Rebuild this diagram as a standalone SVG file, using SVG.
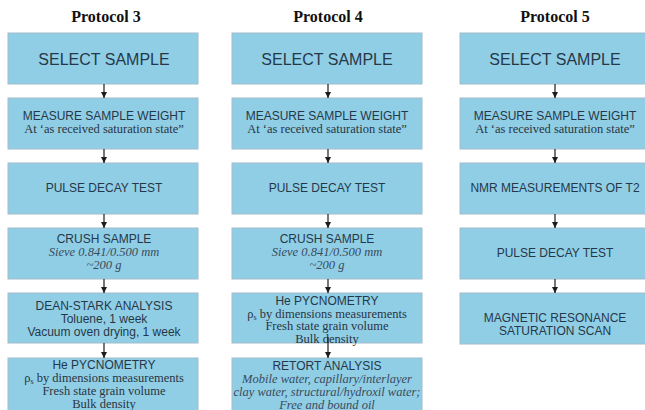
<svg xmlns="http://www.w3.org/2000/svg" width="645" height="410" viewBox="0 0 645 410">
  <defs>
    <marker id="arrowhead" viewBox="0 0 10 10" refX="10" refY="5" markerWidth="6" markerHeight="7.5" orient="auto" markerUnits="userSpaceOnUse">
      <path d="M0,0 L10,5 L0,10 Z" fill="#1c1c1c"/>
    </marker>
    <style>
      .box { fill: #90cee6; stroke: #a3bccb; stroke-width: 1; }
      .title { font-family: "Liberation Serif", "Times New Roman", serif; font-weight: bold; font-size: 16px; fill: #111; text-anchor: middle; }
      .big { font-family: "Liberation Sans", Arial, sans-serif; font-size: 16px; fill: #263848; text-anchor: middle; }
      .sans { font-family: "Liberation Sans", Arial, sans-serif; font-size: 12px; fill: #263848; text-anchor: middle; }
      .serif { font-family: "Liberation Serif", "Times New Roman", serif; font-size: 12.5px; fill: #2a3440; text-anchor: middle; }
      .ital { font-family: "Liberation Serif", "Times New Roman", serif; font-style: italic; font-size: 12.5px; fill: #3a4b5c; text-anchor: middle; }
      .arrow { stroke: #1c1c1c; stroke-width: 1.2; fill: none; }
    </style>
  </defs>

  <!-- column headings -->
  <text class="title" x="106" y="22">Protocol 3</text>
  <text class="title" x="328" y="22">Protocol 4</text>
  <text class="title" x="555" y="22">Protocol 5</text>

  <!-- Protocol 3 -->
  <g id="p3-select">
    <rect class="box" x="8" y="33" width="190" height="51"/>
    <text class="big" x="104" y="64.5">SELECT SAMPLE</text>
  </g>
  <g id="p3-weight">
    <rect class="box" x="8" y="98" width="190" height="51"/>
    <text class="sans" x="104" y="120">MEASURE SAMPLE WEIGHT</text>
    <text class="serif" x="104" y="133">At ‘as received saturation state”</text>
  </g>
  <g id="p3-pulse">
    <rect class="box" x="8" y="163" width="190" height="51"/>
    <text class="sans" x="104" y="191.5">PULSE DECAY TEST</text>
  </g>
  <g id="p3-crush">
    <rect class="box" x="8" y="228" width="190" height="51"/>
    <text class="sans" x="104" y="243">CRUSH SAMPLE</text>
    <text class="ital" x="104" y="256">Sieve 0.841/0.500 mm</text>
    <text class="ital" x="104" y="268.5">~200 g</text>
  </g>
  <g id="p3-deanstark">
    <rect class="box" x="8" y="293" width="190" height="50"/>
    <text class="sans" x="104" y="310">DEAN-STARK ANALYSIS</text>
    <text class="sans" x="104" y="323">Toluene, 1 week</text>
    <text class="sans" x="104" y="335.5">Vacuum oven drying, 1 week</text>
  </g>
  <g id="p3-pycnometry">
    <rect class="box" x="8" y="358" width="190" height="56"/>
    <text class="sans" x="104" y="368.5">He PYCNOMETRY</text>
    <text class="serif" x="104" y="382">ρ<tspan font-size="8" dy="2">s</tspan><tspan dy="-2"> by dimensions measurements</tspan></text>
    <text class="serif" x="104" y="395">Fresh state grain volume</text>
    <text class="serif" x="104" y="407.5">Bulk density</text>
  </g>

  <!-- Protocol 4 -->
  <g id="p4-select">
    <rect class="box" x="232" y="33" width="190" height="51"/>
    <text class="big" x="327" y="64.5">SELECT SAMPLE</text>
  </g>
  <g id="p4-weight">
    <rect class="box" x="232" y="98" width="190" height="51"/>
    <text class="sans" x="327" y="120">MEASURE SAMPLE WEIGHT</text>
    <text class="serif" x="327" y="133">At ‘as received saturation state”</text>
  </g>
  <g id="p4-pulse">
    <rect class="box" x="232" y="163" width="190" height="51"/>
    <text class="sans" x="327" y="191.5">PULSE DECAY TEST</text>
  </g>
  <g id="p4-crush">
    <rect class="box" x="232" y="228" width="190" height="51"/>
    <text class="sans" x="327" y="243">CRUSH SAMPLE</text>
    <text class="ital" x="327" y="256">Sieve 0.841/0.500 mm</text>
    <text class="ital" x="327" y="268.5">~200 g</text>
  </g>
  <g id="p4-pycnometry">
    <rect class="box" x="232" y="293" width="190" height="50"/>
    <text class="sans" x="327" y="304.5">He PYCNOMETRY</text>
    <text class="serif" x="327" y="317.5">ρ<tspan font-size="8" dy="2">s</tspan><tspan dy="-2"> by dimensions measurements</tspan></text>
    <text class="serif" x="327" y="330">Fresh state grain volume</text>
    <text class="serif" x="327" y="342.5">Bulk density</text>
  </g>
  <g id="p4-retort">
    <rect class="box" x="232" y="358" width="190" height="56"/>
    <text class="sans" x="327" y="370">RETORT ANALYSIS</text>
    <text class="ital" x="327" y="383">Mobile water, capillary/interlayer</text>
    <text class="ital" x="327" y="396">clay water, structural/hydroxil water;</text>
    <text class="ital" x="327" y="408.5">Free and bound oil</text>
  </g>

  <!-- Protocol 5 -->
  <g id="p5-select">
    <rect class="box" x="460" y="33" width="190" height="51"/>
    <text class="big" x="555" y="64.5">SELECT SAMPLE</text>
  </g>
  <g id="p5-weight">
    <rect class="box" x="460" y="98" width="190" height="51"/>
    <text class="sans" x="555" y="120">MEASURE SAMPLE WEIGHT</text>
    <text class="serif" x="555" y="133">At ‘as received saturation state”</text>
  </g>
  <g id="p5-nmr">
    <rect class="box" x="460" y="163" width="190" height="51"/>
    <text class="sans" x="555" y="191.5">NMR MEASUREMENTS OF T2</text>
  </g>
  <g id="p5-pulse">
    <rect class="box" x="460" y="228" width="190" height="51"/>
    <text class="sans" x="555" y="256.5">PULSE DECAY TEST</text>
  </g>
  <g id="p5-magnetic">
    <rect class="box" x="460" y="293" width="190" height="51"/>
    <text class="sans" x="555" y="321.5">MAGNETIC RESONANCE</text>
    <text class="sans" x="555" y="334.5">SATURATION SCAN</text>
  </g>

  <!-- connectors -->
  <g id="connectors" marker-end="url(#arrowhead)">
    <line class="arrow" x1="104" y1="84" x2="104" y2="98"/>
    <line class="arrow" x1="104" y1="149" x2="104" y2="163"/>
    <line class="arrow" x1="104" y1="214" x2="104" y2="228"/>
    <line class="arrow" x1="104" y1="279" x2="104" y2="293"/>
    <line class="arrow" x1="104" y1="343" x2="104" y2="358"/>

    <line class="arrow" x1="328" y1="84" x2="328" y2="98"/>
    <line class="arrow" x1="328" y1="149" x2="328" y2="163"/>
    <line class="arrow" x1="328" y1="214" x2="328" y2="228"/>
    <line class="arrow" x1="328" y1="279" x2="328" y2="293"/>
    <line class="arrow" x1="328" y1="337" x2="328" y2="358"/>

    <line class="arrow" x1="555" y1="84" x2="555" y2="98"/>
    <line class="arrow" x1="555" y1="149" x2="555" y2="163"/>
    <line class="arrow" x1="555" y1="214" x2="555" y2="228"/>
    <line class="arrow" x1="555" y1="279" x2="555" y2="293"/>
  </g>
</svg>
